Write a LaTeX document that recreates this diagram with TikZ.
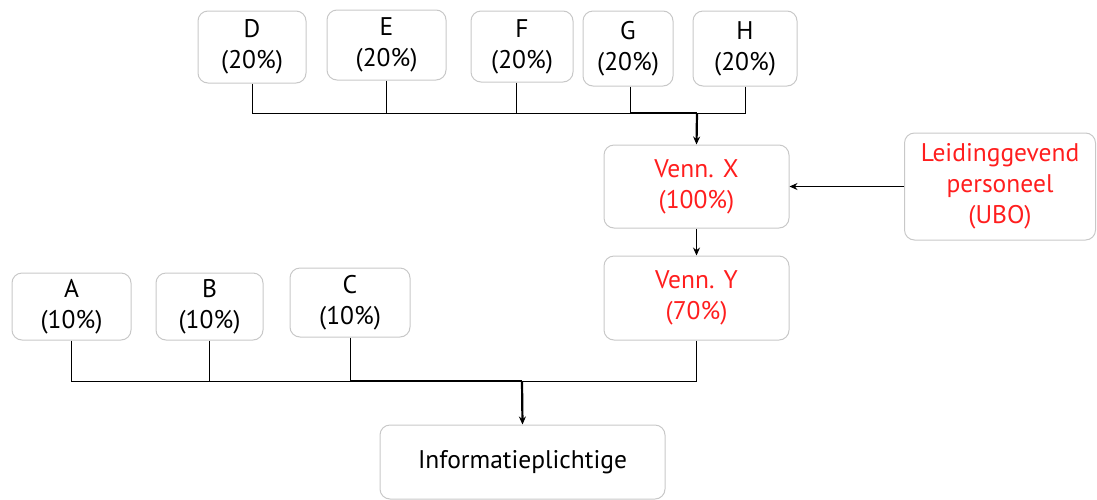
\documentclass[tikz,border=0pt]{standalone}
\usepackage{fontspec}
\setmainfont{PT Sans}
\usetikzlibrary{arrows.meta}
\definecolor{boxgray}{HTML}{C8C8C8}
\definecolor{venred}{HTML}{FF1E1E}
\tikzset{
  box/.style={draw=boxgray, line width=1pt, rounded corners=10pt, align=center, inner sep=0pt, font=\fontsize{25.5}{31}\selectfont},
  redbox/.style={box, text=venred},
  conn/.style={line width=1pt, black},
  thickconn/.style={line width=2.2pt, black},
  arr/.style={-{Stealth[length=8pt,width=7pt]}}
}
\begin{document}
\begin{tikzpicture}[x=1pt,y=-1pt]
\useasboundingbox (0,0) rectangle (1097,499);
% top row
\node[box, minimum width=108pt, minimum height=72pt] (D) at (252,47) {D\\(20\%)};
\node[box, minimum width=119pt, minimum height=70pt] (E) at (386.5,45) {E\\(20\%)};
\node[box, minimum width=102pt, minimum height=71pt] (F) at (522,46.5) {F\\(20\%)};
\node[box, minimum width=90pt, minimum height=75pt] (G) at (628,48.5) {G\\(20\%)};
\node[box, minimum width=104pt, minimum height=75pt] (H) at (745,48.5) {H\\(20\%)};
% middle
\node[redbox, minimum width=185pt, minimum height=83pt] (X) at (696.5,186.5) {Venn. X\\(100\%)};
\node[redbox, minimum width=185pt, minimum height=84pt] (Y) at (696.5,298) {Venn. Y\\(70\%)};
\node[redbox, minimum width=191pt, minimum height=107pt] (L) at (1000,186.5) {Leidinggevend\\personeel\\(UBO)};
% bottom row
\node[box, minimum width=119pt, minimum height=67pt] (A) at (71.5,306.5) {A\\(10\%)};
\node[box, minimum width=107pt, minimum height=67pt] (B) at (209.5,306.5) {B\\(10\%)};
\node[box, minimum width=120pt, minimum height=69pt] (C) at (350,302.5) {C\\(10\%)};
\node[box, minimum width=285pt, minimum height=74pt] (I) at (522.5,462) {Informatieplichtige};
% junctions
\coordinate (jt) at (697,113);
\coordinate (jb) at (522,381);
\coordinate (fs) at ([xshift=-6pt]F.south);
\coordinate (gs) at ([xshift=2pt]G.south);
% top connectors
\draw[conn] (D.south) |- (jt);
\draw[conn] (E.south) |- (jt);
\draw[conn] (fs) |- (jt);
\draw[conn] (H.south) |- (jt);
\draw[conn] (gs) -- (gs |- jt);
\draw[thickconn] (gs |- jt) -- (jt);
\draw[thickconn, arr] (jt) -- (X.north);
% X -> Y, L -> X
\draw[conn, arr] (X.south) -- (Y.north);
\draw[conn, arr] (L.west) -- (X.east);
% bottom connectors
\draw[conn] (A.south) |- (jb);
\draw[conn] (B.south) |- (jb);
\draw[conn] (Y.south) |- (jb);
\draw[conn] (C.south) -- (C.south |- jb);
\draw[thickconn] (C.south |- jb) -- (jb);
\draw[thickconn, arr] (jb) -- (I.north);
\end{tikzpicture}
\end{document}
